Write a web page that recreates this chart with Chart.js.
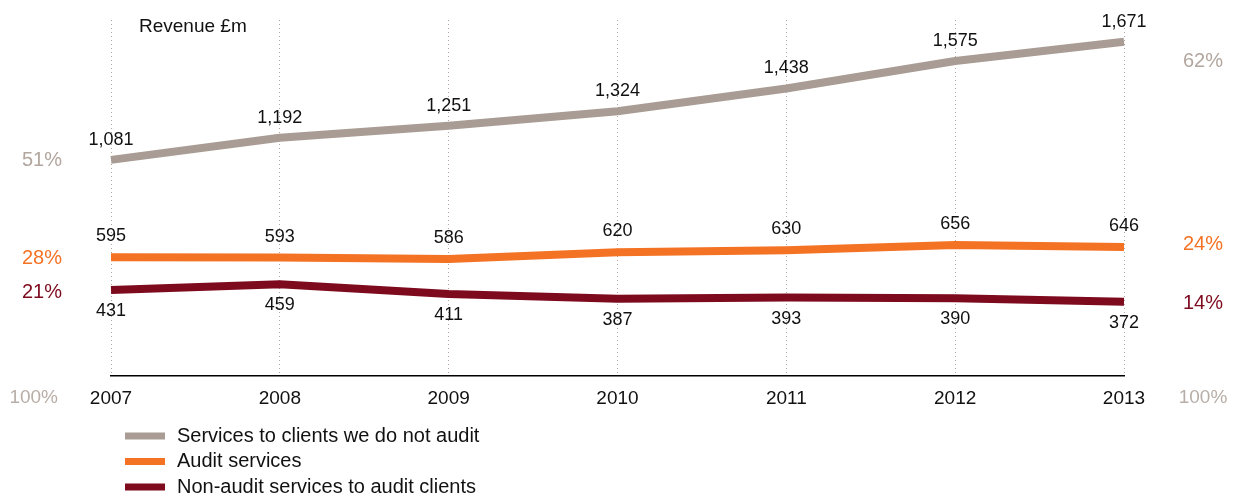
<!DOCTYPE html>
<html>
<head>
<meta charset="utf-8">
<script src="https://cdn.jsdelivr.net/npm/chart.js@4.4.1/dist/chart.umd.min.js"></script>
<style>
  html, body { margin: 0; padding: 0; background: #ffffff; }
  #wrap { width: 1241px; height: 495px; position: relative; }
</style>
</head>
<body>
<div id="wrap"><canvas id="revenue"></canvas></div>
<script>
// Revenue by service line, £m
const years = ['2007', '2008', '2009', '2010', '2011', '2012', '2013'];
const nonAuditClientServices = [1081, 1192, 1251, 1324, 1438, 1575, 1671];
const auditServices = [595, 593, 586, 620, 630, 656, 646];
const nonAuditServicesToAuditClients = [431, 459, 411, 387, 393, 390, 372];

const seriesNames = [
  'Services to clients we do not audit',
  'Audit services',
  'Non-audit services to audit clients'
];
// Share of total revenue at the start and end of the period
const startShares = ['51%', '28%', '21%'];
const endShares = ['62%', '24%', '14%'];
const totalShare = '100%';
const unitTitle = 'Revenue £m';

const FONT = '"Liberation Sans", Arial, Helvetica, sans-serif';
const colours = ['#a89c94', '#f47224', '#7e0a1e'];
const shareColours = ['#b2a69e', '#f47224', '#7e0a1e'];
const labelOffsets = [-20, -21, 21];

const fmt = v => v.toLocaleString('en-GB');

const annotate = {
  id: 'annotate',
  afterDatasetsDraw(chart) {
    const ctx = chart.ctx;
    ctx.save();
    ctx.font = '18px ' + FONT;
    ctx.fillStyle = '#111111';
    ctx.textAlign = 'center';
    ctx.textBaseline = 'middle';
    chart.data.datasets.forEach((ds, i) => {
      const meta = chart.getDatasetMeta(i);
      meta.data.forEach((pt, j) => {
        ctx.fillText(fmt(ds.data[j]), pt.x, pt.y + labelOffsets[i]);
      });
    });
    ctx.restore();
  },
  afterDraw(chart) {
    const ctx = chart.ctx;
    const area = chart.chartArea;
    ctx.save();
    ctx.font = '20px ' + FONT;
    ctx.textBaseline = 'middle';

    // share labels beside the first and last points
    chart.data.datasets.forEach((ds, i) => {
      const meta = chart.getDatasetMeta(i);
      const first = meta.data[0];
      const last = meta.data[meta.data.length - 1];
      ctx.fillStyle = shareColours[i];
      ctx.textAlign = 'right';
      ctx.fillText(startShares[i], 62, first.y + (i === 2 ? 3 : 1));
      ctx.textAlign = 'center';
      ctx.fillText(endShares[i], 1203, last.y + (i === 0 ? 20 : i === 1 ? -2 : 2));
    });

    // totals on the axis row
    ctx.fillStyle = '#b8aea7';
    const tickY = area.bottom + 22;
    ctx.font = '19px ' + FONT;
    ctx.textAlign = 'right';
    ctx.fillText(totalShare, 58, tickY);
    ctx.textAlign = 'center';
    ctx.fillText(totalShare, 1203, tickY);

    // unit title
    ctx.fillStyle = '#111111';
    ctx.textAlign = 'left';
    ctx.font = '19px ' + FONT;
    ctx.fillText(unitTitle, 139, 27);

    // legend
    ctx.font = '20px ' + FONT;
    chart.data.datasets.forEach((ds, i) => {
      const y = 436 + i * 25.5;
      ctx.fillStyle = colours[i];
      ctx.fillRect(125, y - 3.5, 40, 7);
      ctx.fillStyle = '#111111';
      ctx.fillText(ds.label, 177, y);
    });
    ctx.restore();
  }
};

const datasets = [nonAuditClientServices, auditServices, nonAuditServicesToAuditClients].map((d, i) => ({
  label: seriesNames[i],
  data: d,
  borderColor: colours[i],
  backgroundColor: colours[i],
  borderWidth: 8,
  borderCapStyle: 'butt',
  borderJoinStyle: 'round',
  pointRadius: 0,
  tension: 0,
  fill: false
}));

new Chart(document.getElementById('revenue'), {
  type: 'line',
  data: { labels: years, datasets },
  options: {
    responsive: true,
    maintainAspectRatio: false,
    animation: false,
    layout: { padding: { left: 111, right: 117, top: 20, bottom: 74 } },
    plugins: { legend: { display: false }, tooltip: { enabled: false } },
    scales: {
      x: {
        offset: false,
        grid: {
          color: '#b3a69e',
          lineWidth: 1,
          drawTicks: false
        },
        border: { display: true, color: '#000000', width: 1.5, dash: [1, 3] },
        ticks: {
          color: '#111111',
          font: { family: FONT, size: 19 },
          padding: 11,
          maxRotation: 0
        }
      },
      y: {
        display: false,
        min: 0,
        max: 1780
      }
    }
  },
  plugins: [annotate]
});
</script>
</body>
</html>
